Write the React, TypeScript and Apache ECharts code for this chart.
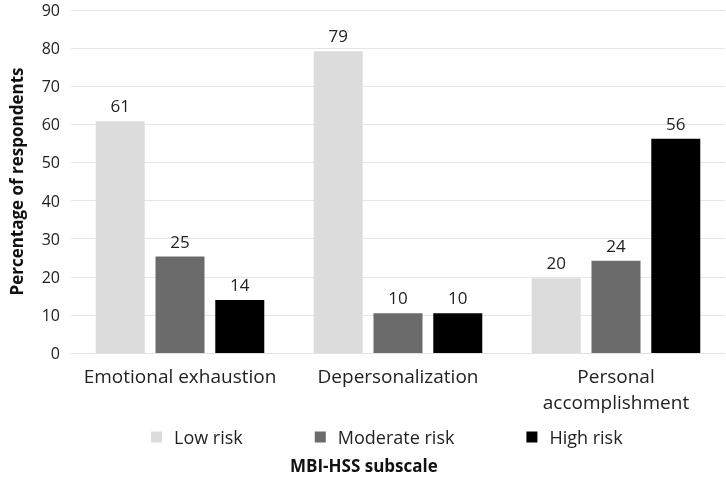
import React, { useEffect, useRef } from "react";
import * as echarts from "echarts";

const categories = ["Emotional exhaustion", "Depersonalization", "Personal\naccomplishment"];
const seriesNames = ["Low risk", "Moderate risk", "High risk"];
const lowRisk = [60.8, 79.2, 19.6];
const moderateRisk = [25.3, 10.4, 24.2];
const highRisk = [13.9, 10.4, 56.2];
const colors = ["#dcdcdc", "#6b6b6b", "#000000"];
const yTicks = { min: 0, max: 90, interval: 10 };

const FONT = "Open Sans";

export default function App() {
  const ref = useRef<HTMLDivElement>(null);
  useEffect(() => {
    if (!ref.current) return;
    const chart = echarts.init(ref.current, undefined, { renderer: "svg" });
    const values = [lowRisk, moderateRisk, highRisk];
    chart.setOption({
      animation: false,
      textStyle: { fontFamily: FONT },
      grid: { left: 69, right: 1, top: 10, bottom: 125, containLabel: false },
      legend: {
        data: seriesNames,
        top: 423,
        left: 146,
        itemWidth: 11,
        itemHeight: 11,
        itemGap: 72,
        icon: "rect",
        textStyle: { fontSize: 18, color: "#222", fontFamily: FONT, padding: [0, 0, 0, 7] },
      },
      graphic: [
        {
          type: "text",
          left: 290,
          top: 457,
          style: { text: "MBI-HSS subscale", fontSize: 17, fontWeight: "bold", fill: "#111", fontFamily: FONT },
        },
      ],
      xAxis: {
        type: "category",
        data: categories,
        axisLine: { lineStyle: { color: "#e3e3e3" } },
        axisTick: { show: false },
        axisLabel: { fontSize: 19, color: "#222", margin: 10, lineHeight: 26, fontFamily: FONT, interval: 0 },
      },
      yAxis: {
        type: "value",
        min: yTicks.min,
        max: yTicks.max,
        interval: yTicks.interval,
        name: "Percentage of respondents",
        nameLocation: "middle",
        nameGap: 46,
        nameTextStyle: { fontSize: 17, fontWeight: "bold", color: "#111", fontFamily: FONT },
        axisLine: { show: false },
        axisTick: { show: false },
        axisLabel: { fontSize: 16, color: "#222", margin: 11, fontFamily: FONT },
        splitLine: { lineStyle: { color: "#e6e6e6" } },
      },
      series: seriesNames.map((name, i) => ({
        name,
        type: "bar",
        data: values[i],
        barWidth: 49,
        barGap: "22%",
        itemStyle: { color: colors[i] },
        label: {
          show: true,
          position: "top",
          distance: 7,
          fontSize: 17,
          color: "#222",
          fontFamily: FONT,
          formatter: (p: any) => String(Math.round(p.value)),
        },
      })),
    });
    return () => chart.dispose();
  }, []);
  return <div ref={ref} style={{ position: "fixed", left: 0, top: 0, width: 726, height: 478 }} />;
}
